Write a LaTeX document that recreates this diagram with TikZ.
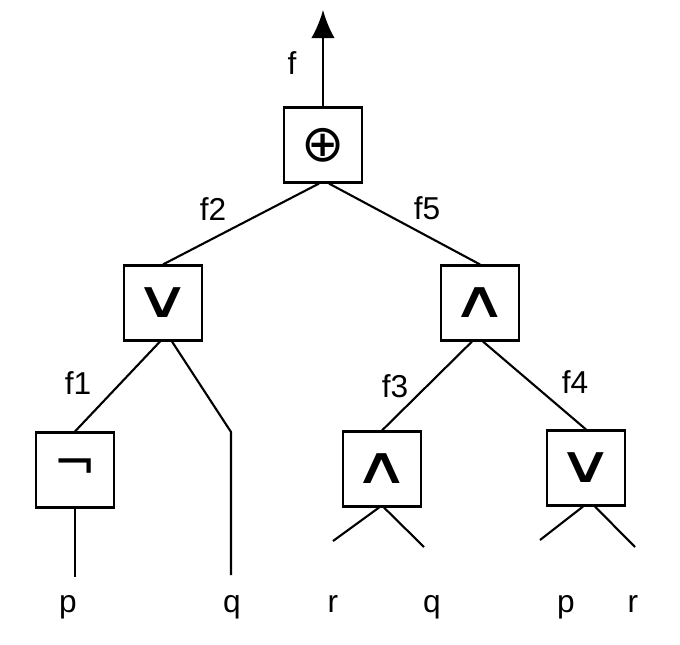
\documentclass[tikz,border=0pt]{standalone}
\usepackage{fontspec}
\setmainfont{Liberation Sans}
\newfontfamily\gatefont{DejaVu Sans}
\usetikzlibrary{arrows.meta, positioning, calc}
\newcommand{\widesym}[1]{\scalebox{1.5}[1]{#1}}

\begin{document}
\begin{tikzpicture}[x=0.03cm, y=-0.03cm,
  gate/.style={draw, line width=1.8pt, minimum width=2.34cm, minimum height=2.25cm,
    inner sep=0pt, font=\gatefont\fontsize{44}{44}\selectfont},
  wire/.style={line width=1.8pt},
  lbl/.style={font=\fontsize{27}{27}\selectfont, inner sep=0pt}]
\useasboundingbox (0,0) rectangle (680,644);
% gates
\node[gate] (xorroot) at (323,145) {⊕};
\node[gate] (orleft) at (163,303) {\widesym{∨}};
\node[gate] (andright) at (480,303) {\widesym{∧}};
\node[gate] (notp) at (75,470) {¬};
\node[gate] (andqr) at (382,469) {\widesym{∧}};
\node[gate] (orpr) at (586,468) {\widesym{∨}};
% free ends
\coordinate (outtop) at (323,10);
\coordinate (pend) at (75,577);
\coordinate (qbend) at (231,432);
\coordinate (qend) at (231,575);
\coordinate (andqleg1) at (333,541);
\coordinate (andqleg2) at (424,547);
\coordinate (orpleg1) at (540,540);
\coordinate (orpleg2) at (635,547);
% connectors
\draw[wire, -{Latex[length=8.4mm, width=7mm]}] (xorroot.north) -- (outtop);
\draw[wire] ($(xorroot.south)+(-4,0)$) -- (orleft.north);
\draw[wire] ($(xorroot.south)+(6,0)$) -- (andright.north);
\draw[wire] ($(orleft.south)+(-3,0)$) -- (notp.north);
\draw[wire] ($(orleft.south)+(9,0)$) -- (qbend) -- (qend);
\draw[wire] (notp.south) -- (pend);
\draw[wire] ($(andright.south)+(-8,0)$) -- (andqr.north);
\draw[wire] ($(andright.south)+(3,0)$) -- (orpr.north);
\draw[wire] ($(andqr.south)+(-3,0)$) -- (andqleg1);
\draw[wire] ($(andqr.south)+(2,0)$) -- (andqleg2);
\draw[wire] ($(orpr.south)+(-3,0)$) -- (orpleg1);
\draw[wire] ($(orpr.south)+(9,0)$) -- (orpleg2);
% signal names
\node[lbl] (sigf) at (292,63) {f};
\node[lbl] (sigf2) at (213,209) {f2};
\node[lbl] (sigf5) at (427,208) {f5};
\node[lbl] (sigf1) at (78,383) {f1};
\node[lbl] (sigf3) at (395,386) {f3};
\node[lbl] (sigf4) at (575,382) {f4};
% inputs
\node[lbl, anchor=base] (inp1) at (68,612) {p};
\node[lbl, anchor=base] (inq1) at (232,612) {q};
\node[lbl, anchor=base] (inr1) at (333,612) {r};
\node[lbl, anchor=base] (inq2) at (432,612) {q};
\node[lbl, anchor=base] (inp2) at (566,612) {p};
\node[lbl, anchor=base] (inr2) at (633,612) {r};
\end{tikzpicture}
\end{document}
